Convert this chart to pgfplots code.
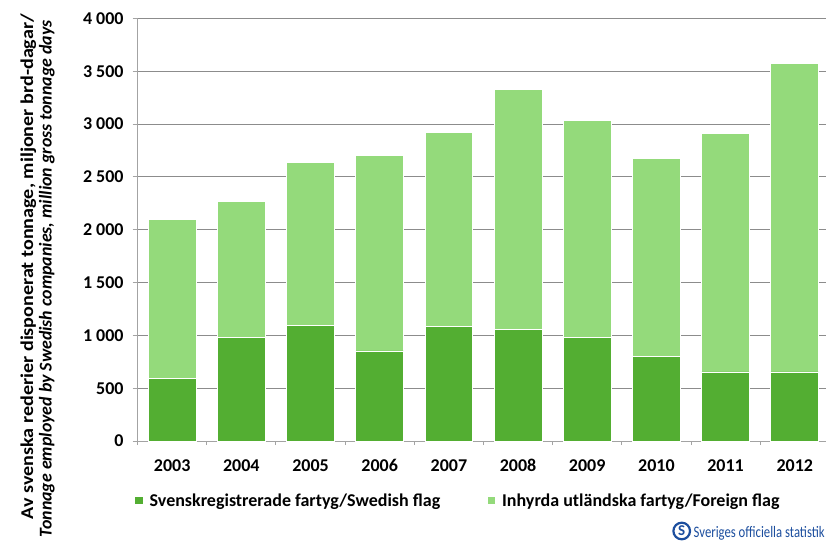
\documentclass[border=0pt]{standalone}
\usepackage{fontspec}
\setmainfont{Carlito}
\usepackage{pgfplots}
\pgfplotsset{compat=1.18}
\definecolor{dgreen}{RGB}{83,174,50}
\definecolor{lgreen}{RGB}{148,218,123}
\definecolor{gridc}{RGB}{140,140,140}
\definecolor{logoblue}{RGB}{28,78,158}
\begin{document}
\begin{tikzpicture}[x=1pt,y=1pt]
\useasboundingbox (0,0) rectangle (826,541);
\begin{axis}[
  at={(137.6pt,100pt)}, anchor=south west,
  width=688.4pt, height=422.5pt, scale only axis,
  ybar stacked, bar width=0.69,
  xmin=-0.5, xmax=9.452, ymin=0, ymax=4000,
  xtick={0,1,2,3,4,5,6,7,8,9},
  xticklabels={2003,2004,2005,2006,2007,2008,2009,2010,2011,2012},
  minor xtick={-0.5,0.5,1.5,2.5,3.5,4.5,5.5,6.5,7.5,8.5},
  ytick={0,500,1000,1500,2000,2500,3000,3500,4000},
  yticklabels={0,500,1 000,1 500,2 000,2 500,3 000,3 500,4 000},
  ymajorgrids, grid style={draw=gridc, line width=0.9pt},
  axis x line*=bottom, axis y line*=left,
  axis line style={-, draw=gridc!80, line width=0.9pt},
  tick align=outside,
  major tick length=5pt, minor tick length=4pt,
  tick style={draw=gridc!80, line width=0.9pt},
  major x tick style={draw=none},
  ticklabel style={font=\bfseries\fontsize{18}{20}\selectfont},
  xticklabel style={anchor=base, yshift=-25pt},
  yticklabel style={anchor=east, xshift=-5.5pt},
  legend style={draw=none, fill=none, at={(-0.0038,-0.1408)}, anchor=west,
    inner sep=0pt, outer sep=0pt,
    nodes={inner sep=0pt, font=\bfseries\fontsize{18}{20}\selectfont},
    /tikz/every odd column/.append style={column sep=7pt},
    /tikz/every even column/.append style={column sep=47.3pt}},
  legend columns=2,
  legend image code/.code={\fill[#1, draw=none] (0pt,-3.8pt) rectangle (7.6pt,3.8pt);},
  every axis plot/.append style={draw=white, line width=0.8pt},
]
\addplot[fill=dgreen] coordinates {(0,592) (1,977) (2,1090) (3,853) (4,1081) (5,1056) (6,980) (7,803) (8,654) (9,654)};
\addlegendentry{Svenskregistrerade fartyg/Swedish flag}
\addplot[fill=lgreen] coordinates {(0,1504) (1,1293) (2,1543) (3,1847) (4,1844) (5,2276) (6,2058) (7,1875) (8,2261) (9,2921)};
\addlegendentry{Inhyrda utländska fartyg/Foreign flag}
\end{axis}
\node[rotate=90, anchor=base east, inner sep=0pt, font=\bfseries\fontsize{18}{20}\selectfont] at (33,527) {\resizebox{505pt}{\height}{Av svenska rederier disponerat tonnage, miljoner brd-dagar/}};
\node[rotate=90, anchor=base east, inner sep=0pt, font=\bfseries\itshape\fontsize{18}{20}\selectfont] at (51.5,521) {\resizebox{517pt}{\height}{Tonnage employed by Swedish companies, million gross tonnage days}};
\draw[logoblue, line width=2.2pt] (681.7,10) circle (8.3);
\node[text=logoblue, font=\bfseries\fontsize{15}{15}\selectfont] at (681.7,10) {S};
\node[anchor=base west, text=logoblue, inner sep=0pt] at (693.5,3.3) {\resizebox{131pt}{\height}{\fontsize{16}{16}\selectfont Sveriges officiella statistik}};
\end{tikzpicture}
\end{document}
